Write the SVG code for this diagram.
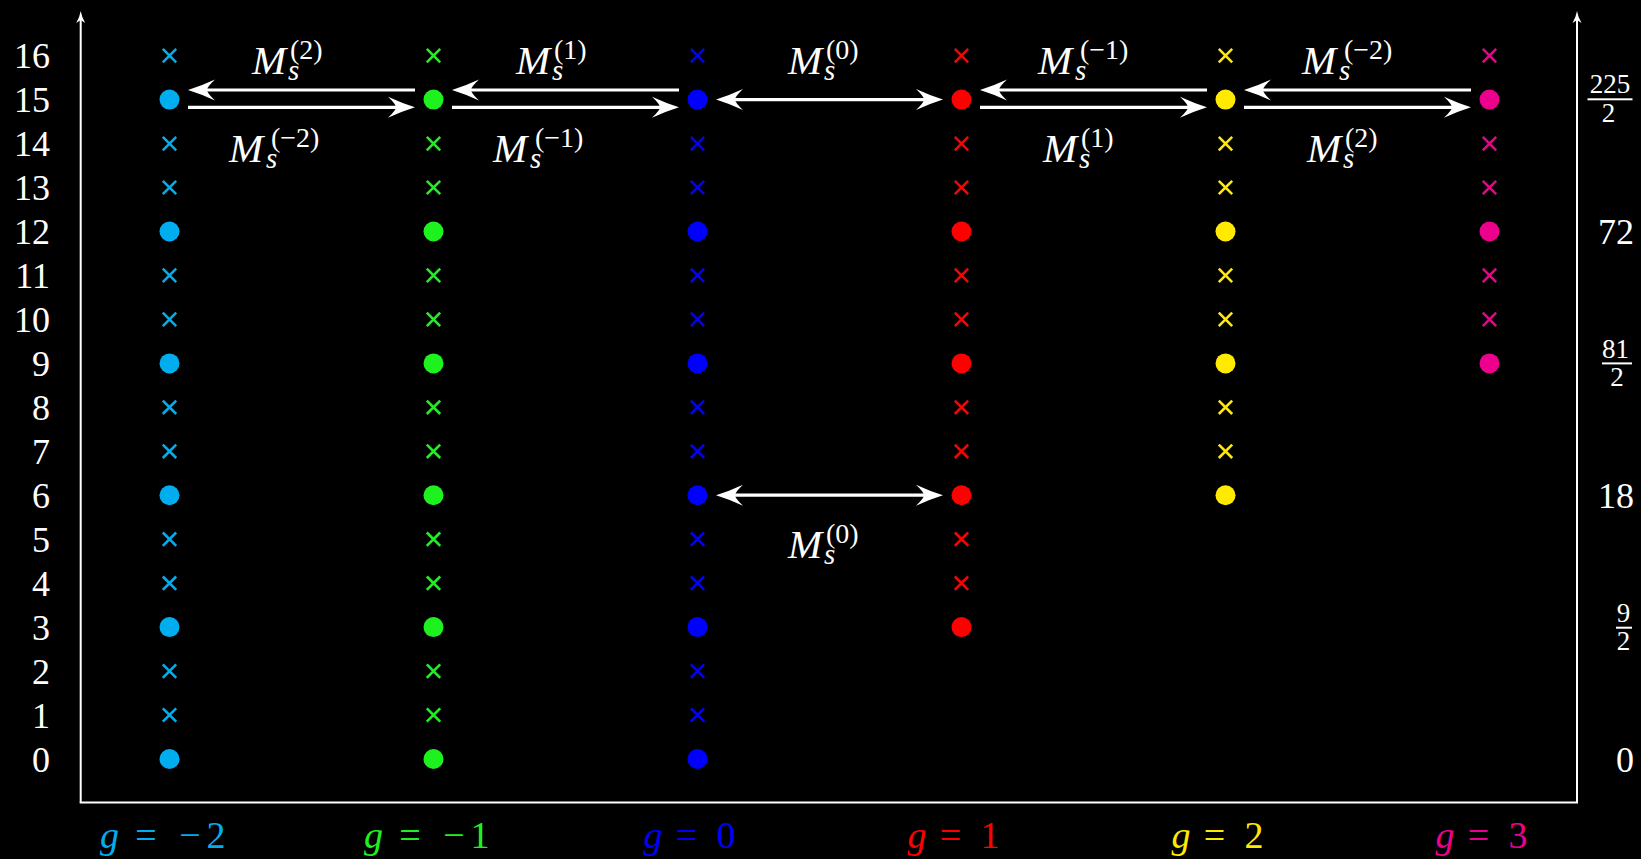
<svg xmlns="http://www.w3.org/2000/svg" xmlns:xlink="http://www.w3.org/1999/xlink" width="1641" height="859" viewBox="0 0 1641 859">
<style>
.num{font-family:'Liberation Serif','Times New Roman','DejaVu Serif','Noto Serif',serif;font-size:36px;fill:#fff}
.frac{font-family:'Liberation Serif','Times New Roman','DejaVu Serif',serif;font-size:27px;fill:#fff;text-anchor:middle}
.lab{font-family:'Liberation Serif','Times New Roman','DejaVu Serif',serif;fill:#fff}
.mi{font-style:italic;font-size:41px}
.sb{font-style:italic;font-size:29px}
.sp{font-size:28px}
.gl{font-family:'Liberation Serif','Times New Roman','DejaVu Serif',serif;font-size:38px}
.gi{font-style:italic}
.op{font-family:'Liberation Serif','Times New Roman','DejaVu Serif',serif;font-size:38px;text-anchor:middle}
.dg{text-anchor:middle}
.ax{stroke:#fff;stroke-width:2;fill:none}
.ar{stroke:#fff;stroke-width:3.2;fill:none}
.xm{fill:none;stroke-width:2.6}
circle{stroke:none}
.cA{fill:#00aeef;stroke:#00aeef}
.cB{fill:#1ef21e;stroke:#1ef21e}
.cC{fill:#0000ff;stroke:#0000ff}
.cD{fill:#ff0000;stroke:#ff0000}
.cE{fill:#ffea00;stroke:#ffea00}
.cF{fill:#ec008c;stroke:#ec008c}
</style>
<defs>
<path id="xm" d="M-6.7,-6.7L6.7,6.7M-6.7,6.7L6.7,-6.7"/>
<marker id="hd" markerUnits="userSpaceOnUse" orient="auto-start-reverse" refX="-12" refY="0" markerWidth="40" markerHeight="30" overflow="visible">
<path d="M0,0 Q-13,-4 -27,-10.5 Q-19,-3 -19,0 Q-19,3 -27,10.5 Q-13,4 0,0Z" fill="#fff"/>
</marker>
<marker id="ah" markerUnits="userSpaceOnUse" orient="auto" refX="-8" refY="0" markerWidth="20" markerHeight="20" overflow="visible">
<path d="M0,0 Q-6,1 -12,4.5 L-9,0 L-12,-4.5 Q-6,-1 0,0Z" fill="#fff"/>
</marker>
</defs>
<rect width="1641" height="859" fill="#000"/>

<g id="axes">
<path class="ax" d="M80.7,802.5 V19" marker-end="url(#ah)"/>
<path class="ax" d="M1577,802.5 V19" marker-end="url(#ah)"/>
<path class="ax" d="M79.7,802.5 H1578"/>
</g>

<g id="left-scale" class="num" text-anchor="end">
<text x="50" y="68.1">16</text>
<text x="50" y="112.1">15</text>
<text x="50" y="156.1">14</text>
<text x="50" y="200">13</text>
<text x="50" y="244">12</text>
<text x="50" y="287.9">11</text>
<text x="50" y="331.9">10</text>
<text x="50" y="375.9">9</text>
<text x="50" y="419.8">8</text>
<text x="50" y="463.8">7</text>
<text x="50" y="507.7">6</text>
<text x="50" y="551.7">5</text>
<text x="50" y="595.7">4</text>
<text x="50" y="639.6">3</text>
<text x="50" y="683.6">2</text>
<text x="50" y="727.5">1</text>
<text x="50" y="771.5">0</text>
</g>

<g id="right-scale">
<text class="frac" x="1610" y="93">225</text>
<rect x="1587.5" y="98.3" width="45" height="2" fill="#fff"/>
<text class="frac" x="1608.5" y="121.5">2</text>
<text class="num" x="1634" y="244" text-anchor="end">72</text>
<text class="frac" x="1615.5" y="357.5">81</text>
<rect x="1602" y="362.4" width="30" height="2" fill="#fff"/>
<text class="frac" x="1617" y="385.5">2</text>
<text class="num" x="1634" y="507.7" text-anchor="end">18</text>
<text class="frac" x="1623.5" y="621.5">9</text>
<rect x="1616" y="626.7" width="16" height="2" fill="#fff"/>
<text class="frac" x="1623.5" y="649.7">2</text>
<text class="num" x="1634" y="771.5" text-anchor="end">0</text>
</g>

<g id="col-gm2" class="cA">
<use href="#xm" class="xm" x="169.5" y="55.6"/>
<circle cx="169.5" cy="99.6" r="10"/>
<use href="#xm" class="xm" x="169.5" y="143.6"/>
<use href="#xm" class="xm" x="169.5" y="187.5"/>
<circle cx="169.5" cy="231.5" r="10"/>
<use href="#xm" class="xm" x="169.5" y="275.4"/>
<use href="#xm" class="xm" x="169.5" y="319.4"/>
<circle cx="169.5" cy="363.4" r="10"/>
<use href="#xm" class="xm" x="169.5" y="407.3"/>
<use href="#xm" class="xm" x="169.5" y="451.3"/>
<circle cx="169.5" cy="495.2" r="10"/>
<use href="#xm" class="xm" x="169.5" y="539.2"/>
<use href="#xm" class="xm" x="169.5" y="583.2"/>
<circle cx="169.5" cy="627.1" r="10"/>
<use href="#xm" class="xm" x="169.5" y="671.1"/>
<use href="#xm" class="xm" x="169.5" y="715"/>
<circle cx="169.5" cy="759" r="10"/>
<text class="gl" y="848" stroke="none"><tspan class="gi" x="100">g</tspan><tspan class="op" x="146">=</tspan><tspan class="op" x="190">−</tspan><tspan class="dg" x="216">2</tspan></text>
</g>

<g id="col-gm1" class="cB">
<use href="#xm" class="xm" x="433.5" y="55.6"/>
<circle cx="433.5" cy="99.6" r="10"/>
<use href="#xm" class="xm" x="433.5" y="143.6"/>
<use href="#xm" class="xm" x="433.5" y="187.5"/>
<circle cx="433.5" cy="231.5" r="10"/>
<use href="#xm" class="xm" x="433.5" y="275.4"/>
<use href="#xm" class="xm" x="433.5" y="319.4"/>
<circle cx="433.5" cy="363.4" r="10"/>
<use href="#xm" class="xm" x="433.5" y="407.3"/>
<use href="#xm" class="xm" x="433.5" y="451.3"/>
<circle cx="433.5" cy="495.2" r="10"/>
<use href="#xm" class="xm" x="433.5" y="539.2"/>
<use href="#xm" class="xm" x="433.5" y="583.2"/>
<circle cx="433.5" cy="627.1" r="10"/>
<use href="#xm" class="xm" x="433.5" y="671.1"/>
<use href="#xm" class="xm" x="433.5" y="715"/>
<circle cx="433.5" cy="759" r="10"/>
<text class="gl" y="848" stroke="none"><tspan class="gi" x="364">g</tspan><tspan class="op" x="410">=</tspan><tspan class="op" x="454">−</tspan><tspan class="dg" x="480">1</tspan></text>
</g>

<g id="col-g0" class="cC">
<use href="#xm" class="xm" x="697.5" y="55.6"/>
<circle cx="697.5" cy="99.6" r="10"/>
<use href="#xm" class="xm" x="697.5" y="143.6"/>
<use href="#xm" class="xm" x="697.5" y="187.5"/>
<circle cx="697.5" cy="231.5" r="10"/>
<use href="#xm" class="xm" x="697.5" y="275.4"/>
<use href="#xm" class="xm" x="697.5" y="319.4"/>
<circle cx="697.5" cy="363.4" r="10"/>
<use href="#xm" class="xm" x="697.5" y="407.3"/>
<use href="#xm" class="xm" x="697.5" y="451.3"/>
<circle cx="697.5" cy="495.2" r="10"/>
<use href="#xm" class="xm" x="697.5" y="539.2"/>
<use href="#xm" class="xm" x="697.5" y="583.2"/>
<circle cx="697.5" cy="627.1" r="10"/>
<use href="#xm" class="xm" x="697.5" y="671.1"/>
<use href="#xm" class="xm" x="697.5" y="715"/>
<circle cx="697.5" cy="759" r="10"/>
<text class="gl" y="848" stroke="none"><tspan class="gi" x="643.5">g</tspan><tspan class="op" x="686.5">=</tspan><tspan class="dg" x="726">0</tspan></text>
</g>

<g id="col-g1" class="cD">
<use href="#xm" class="xm" x="961.5" y="55.6"/>
<circle cx="961.5" cy="99.6" r="10"/>
<use href="#xm" class="xm" x="961.5" y="143.6"/>
<use href="#xm" class="xm" x="961.5" y="187.5"/>
<circle cx="961.5" cy="231.5" r="10"/>
<use href="#xm" class="xm" x="961.5" y="275.4"/>
<use href="#xm" class="xm" x="961.5" y="319.4"/>
<circle cx="961.5" cy="363.4" r="10"/>
<use href="#xm" class="xm" x="961.5" y="407.3"/>
<use href="#xm" class="xm" x="961.5" y="451.3"/>
<circle cx="961.5" cy="495.2" r="10"/>
<use href="#xm" class="xm" x="961.5" y="539.2"/>
<use href="#xm" class="xm" x="961.5" y="583.2"/>
<circle cx="961.5" cy="627.1" r="10"/>
<text class="gl" y="848" stroke="none"><tspan class="gi" x="907.5">g</tspan><tspan class="op" x="950.5">=</tspan><tspan class="dg" x="990">1</tspan></text>
</g>

<g id="col-g2" class="cE">
<use href="#xm" class="xm" x="1225.5" y="55.6"/>
<circle cx="1225.5" cy="99.6" r="10"/>
<use href="#xm" class="xm" x="1225.5" y="143.6"/>
<use href="#xm" class="xm" x="1225.5" y="187.5"/>
<circle cx="1225.5" cy="231.5" r="10"/>
<use href="#xm" class="xm" x="1225.5" y="275.4"/>
<use href="#xm" class="xm" x="1225.5" y="319.4"/>
<circle cx="1225.5" cy="363.4" r="10"/>
<use href="#xm" class="xm" x="1225.5" y="407.3"/>
<use href="#xm" class="xm" x="1225.5" y="451.3"/>
<circle cx="1225.5" cy="495.2" r="10"/>
<text class="gl" y="848" stroke="none"><tspan class="gi" x="1171.5">g</tspan><tspan class="op" x="1214.5">=</tspan><tspan class="dg" x="1254">2</tspan></text>
</g>

<g id="col-g3" class="cF">
<use href="#xm" class="xm" x="1489.5" y="55.6"/>
<circle cx="1489.5" cy="99.6" r="10"/>
<use href="#xm" class="xm" x="1489.5" y="143.6"/>
<use href="#xm" class="xm" x="1489.5" y="187.5"/>
<circle cx="1489.5" cy="231.5" r="10"/>
<use href="#xm" class="xm" x="1489.5" y="275.4"/>
<use href="#xm" class="xm" x="1489.5" y="319.4"/>
<circle cx="1489.5" cy="363.4" r="10"/>
<text class="gl" y="848" stroke="none"><tspan class="gi" x="1435.5">g</tspan><tspan class="op" x="1478.5">=</tspan><tspan class="dg" x="1518">3</tspan></text>
</g>

<g id="connectors">
<path class="ar" d="M415,90 H200" marker-end="url(#hd)"/>
<path class="ar" d="M188,107.3 H403" marker-end="url(#hd)"/>
<path class="ar" d="M679,90 H464" marker-end="url(#hd)"/>
<path class="ar" d="M452,107.3 H667" marker-end="url(#hd)"/>
<path class="ar" d="M728,99.6 H931" marker-start="url(#hd)" marker-end="url(#hd)"/>
<path class="ar" d="M1207,90 H992" marker-end="url(#hd)"/>
<path class="ar" d="M980,107.3 H1195" marker-end="url(#hd)"/>
<path class="ar" d="M1471,90 H1256" marker-end="url(#hd)"/>
<path class="ar" d="M1244,107.3 H1459" marker-end="url(#hd)"/>
<path class="ar" d="M728,495.2 H931" marker-start="url(#hd)" marker-end="url(#hd)"/>
</g>

<g id="labels">
<text class="lab"><tspan class="mi" x="252" y="74">M</tspan><tspan class="sb" x="288" y="80">s</tspan><tspan class="sp" x="290" y="59">(2)</tspan></text>
<text class="lab"><tspan class="mi" x="229" y="161.5">M</tspan><tspan class="sb" x="266" y="167.5">s</tspan><tspan class="sp" x="271" y="146.5">(−2)</tspan></text>
<text class="lab"><tspan class="mi" x="516" y="74">M</tspan><tspan class="sb" x="552" y="80">s</tspan><tspan class="sp" x="554" y="59">(1)</tspan></text>
<text class="lab"><tspan class="mi" x="493" y="161.5">M</tspan><tspan class="sb" x="530" y="167.5">s</tspan><tspan class="sp" x="535" y="146.5">(−1)</tspan></text>
<text class="lab"><tspan class="mi" x="788" y="74">M</tspan><tspan class="sb" x="824" y="80">s</tspan><tspan class="sp" x="826" y="59">(0)</tspan></text>
<text class="lab"><tspan class="mi" x="1038" y="74">M</tspan><tspan class="sb" x="1075" y="80">s</tspan><tspan class="sp" x="1080" y="59">(−1)</tspan></text>
<text class="lab"><tspan class="mi" x="1043" y="161.5">M</tspan><tspan class="sb" x="1079" y="167.5">s</tspan><tspan class="sp" x="1081" y="146.5">(1)</tspan></text>
<text class="lab"><tspan class="mi" x="1302" y="74">M</tspan><tspan class="sb" x="1339" y="80">s</tspan><tspan class="sp" x="1344" y="59">(−2)</tspan></text>
<text class="lab"><tspan class="mi" x="1307" y="161.5">M</tspan><tspan class="sb" x="1343" y="167.5">s</tspan><tspan class="sp" x="1345" y="146.5">(2)</tspan></text>
<text class="lab"><tspan class="mi" x="788" y="557.5">M</tspan><tspan class="sb" x="824" y="563.5">s</tspan><tspan class="sp" x="826" y="542.5">(0)</tspan></text>
</g>
</svg>
